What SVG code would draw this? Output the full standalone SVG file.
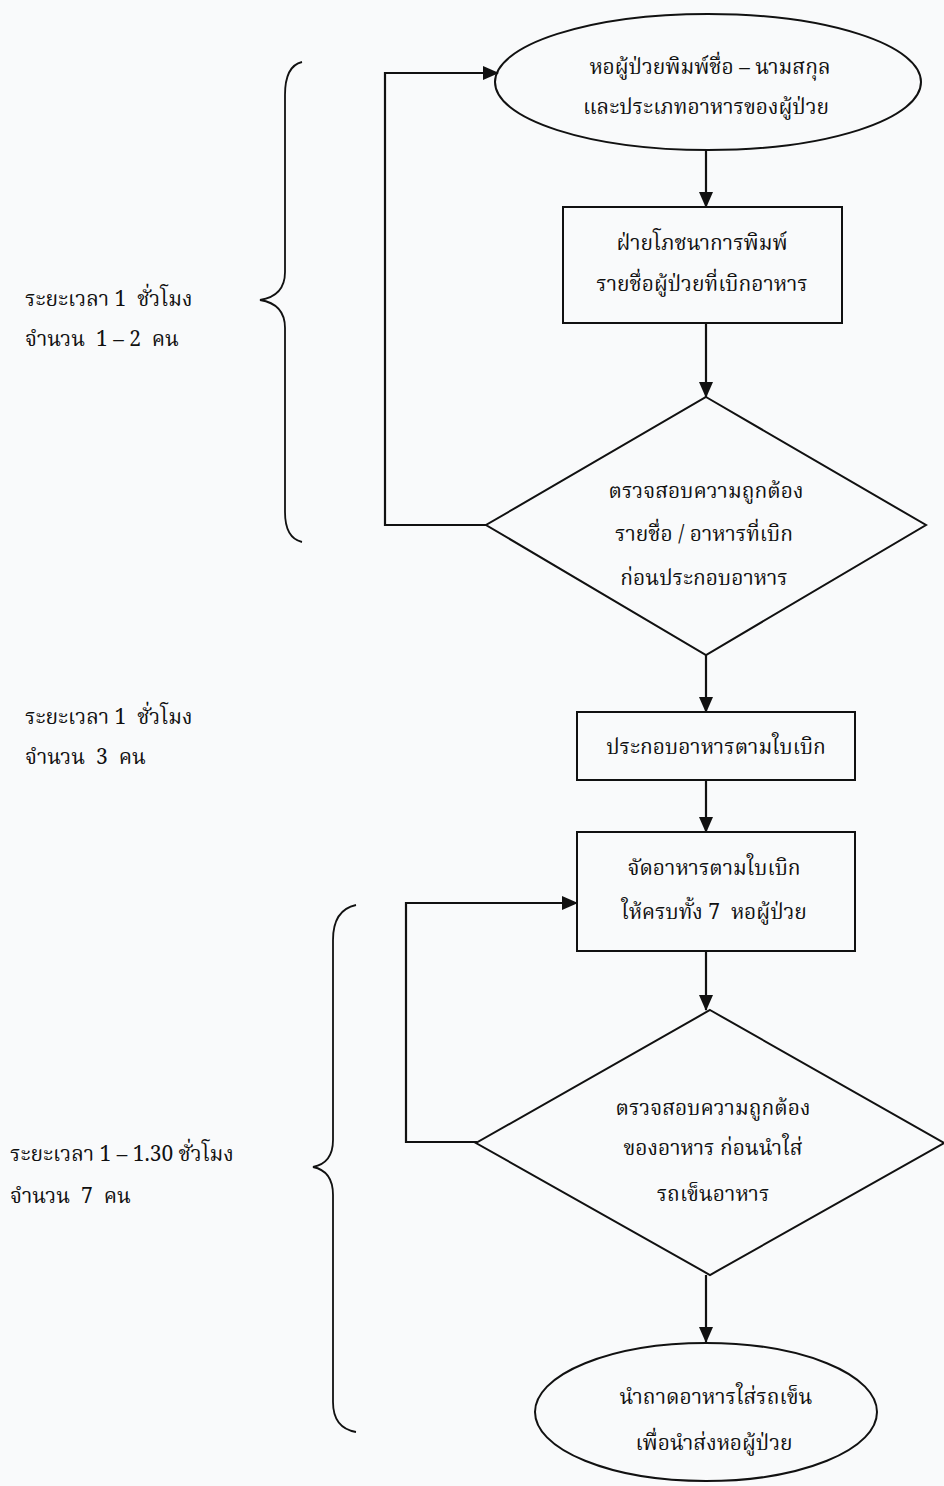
<svg xmlns="http://www.w3.org/2000/svg" width="944" height="1486" viewBox="0 0 944 1486" xml:space="preserve">
<style>
.shape{fill:none;stroke:#111;stroke-width:2}
.conn{fill:none;stroke:#111;stroke-width:2.2}
.brace{fill:none;stroke:#111;stroke-width:1.8}
text{font-family:"Noto Serif Thai","Noto Sans Thai","Liberation Serif","DejaVu Serif",serif;font-size:21px;fill:#111;white-space:pre}
.c{text-anchor:middle}
</style>
<defs>
<marker id="ah" markerUnits="userSpaceOnUse" markerWidth="16" markerHeight="14" refX="15" refY="7" orient="auto">
<path d="M0,0 L16,7 L0,14 z" fill="#111"/>
</marker>
</defs>
<rect width="944" height="1486" fill="#f9fafb"/>
<g id="connectors">
<path class="conn" d="M706,150 L706,207" marker-end="url(#ah)"/>
<path class="conn" d="M706,323 L706,397" marker-end="url(#ah)"/>
<path class="conn" d="M486,525 L385,525 L385,73 L498,73" marker-end="url(#ah)"/>
<path class="conn" d="M706,655 L706,712" marker-end="url(#ah)"/>
<path class="conn" d="M706,780 L706,832" marker-end="url(#ah)"/>
<path class="conn" d="M477,1142 L406,1142 L406,903 L577,903" marker-end="url(#ah)"/>
<path class="conn" d="M706,951 L706,1010" marker-end="url(#ah)"/>
<path class="conn" d="M706,1275 L706,1342" marker-end="url(#ah)"/>
</g>
<g id="n1">
<ellipse class="shape" cx="708" cy="82" rx="213" ry="68"/>
<text class="c" x="710" y="74">หอผู้ป่วยพิมพ์ชื่อ – นามสกุล</text>
<text class="c" x="706" y="114">และประเภทอาหารของผู้ป่วย</text>
</g>
<g id="n2">
<rect class="shape" x="563" y="207" width="279" height="116"/>
<text class="c" x="702" y="250">ฝ่ายโภชนาการพิมพ์</text>
<text class="c" x="702" y="291">รายชื่อผู้ป่วยที่เบิกอาหาร</text>
</g>
<g id="n3">
<polygon class="shape" points="706,397 926,525 706,655 486,525"/>
<text class="c" x="706" y="498">ตรวจสอบความถูกต้อง</text>
<text class="c" x="704" y="541">รายชื่อ / อาหารที่เบิก</text>
<text class="c" x="704" y="585">ก่อนประกอบอาหาร</text>
</g>
<g id="n4">
<rect class="shape" x="577" y="712" width="278" height="68"/>
<text class="c" x="716" y="754">ประกอบอาหารตามใบเบิก</text>
</g>
<g id="n5">
<rect class="shape" x="577" y="832" width="278" height="119"/>
<text class="c" x="714" y="875">จัดอาหารตามใบเบิก</text>
<text class="c" x="714" y="919">ให้ครบทั้ง 7  หอผู้ป่วย</text>
</g>
<g id="n6">
<polygon class="shape" points="710,1010 944,1143 710,1275 476,1143"/>
<text class="c" x="713" y="1115">ตรวจสอบความถูกต้อง</text>
<text class="c" x="713" y="1155">ของอาหาร ก่อนนำใส่</text>
<text class="c" x="713" y="1201">รถเข็นอาหาร</text>
</g>
<g id="n7">
<ellipse class="shape" cx="706" cy="1412" rx="171" ry="69"/>
<text class="c" x="716" y="1404">นำถาดอาหารใส่รถเข็น</text>
<text class="c" x="714" y="1450">เพื่อนำส่งหอผู้ป่วย</text>
</g>
<g id="brace1">
<path class="brace" d="M302,62 Q285,66 285,95 L285,272 Q285,296 260,300 Q285,304 285,328 L285,512 Q285,538 302,542"/>
<text x="25" y="306">ระยะเวลา 1  ชั่วโมง</text>
<text x="25" y="346">จำนวน  1 – 2  คน</text>
</g>
<g id="label2">
<text x="25" y="724">ระยะเวลา 1  ชั่วโมง</text>
<text x="25" y="764">จำนวน  3  คน</text>
</g>
<g id="brace2">
<path class="brace" d="M356,905 Q333,910 333,940 L333,1140 Q333,1163 313,1167 Q333,1171 333,1195 L333,1402 Q333,1428 356,1432"/>
<text x="10" y="1161">ระยะเวลา 1 – 1.30 ชั่วโมง</text>
<text x="10" y="1203">จำนวน  7  คน</text>
</g>
</svg>
